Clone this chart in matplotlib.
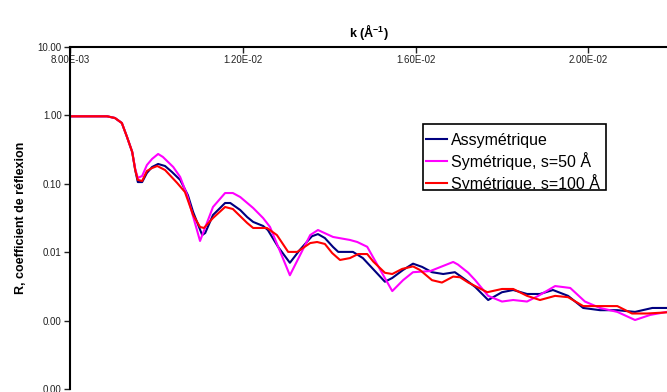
import matplotlib
matplotlib.use('Agg')
import matplotlib.pyplot as plt
from matplotlib.ticker import FixedLocator, FuncFormatter
from matplotlib.patches import Rectangle
from matplotlib.transforms import Bbox, TransformedBbox

plt.rcParams['font.family'] = ['Liberation Sans', 'DejaVu Sans']
plt.rcParams['mathtext.fontset'] = 'custom'
plt.rcParams['mathtext.rm'] = 'Liberation Sans'
plt.rcParams['mathtext.bf'] = 'Liberation Sans:bold'

# courbe asymétrique
k_asym = [0.00800, 0.00846, 0.00886, 0.00904, 0.00920, 0.00932, 0.00944, 0.00951,
          0.00957, 0.00967, 0.00978, 0.00990, 0.01004, 0.01020, 0.01036, 0.01055,
          0.01073, 0.01085, 0.01106, 0.01113, 0.01131, 0.01159, 0.01171, 0.01194,
          0.01210, 0.01224, 0.01247, 0.01258, 0.01282, 0.01309, 0.01332, 0.01360,
          0.01374, 0.01390, 0.01409, 0.01421, 0.01455, 0.01478, 0.01529, 0.01546,
          0.01571, 0.01594, 0.01615, 0.01638, 0.01664, 0.01691, 0.01722, 0.01738,
          0.01768, 0.01800, 0.01826, 0.01858, 0.01888, 0.01918, 0.01953, 0.01988,
          0.02027, 0.02067, 0.02108, 0.02148, 0.02182]
r_asym = [0.970, 0.970, 0.970, 0.916, 0.774, 0.483, 0.292, 0.159,
          0.106, 0.106, 0.144, 0.176, 0.195, 0.182, 0.149, 0.114,
          0.068, 0.0387, 0.0178, 0.0191, 0.035, 0.0524, 0.0524, 0.0414,
          0.0327, 0.0277, 0.0242, 0.0211, 0.0119, 0.0070, 0.0108, 0.0171,
          0.0184, 0.0161, 0.0119, 0.0101, 0.0101, 0.0082, 0.0037, 0.0042,
          0.0055, 0.0068, 0.0061, 0.0051, 0.0048, 0.0051, 0.0037, 0.0031,
          0.0020, 0.0026, 0.0028, 0.00245, 0.00245, 0.0028, 0.0023, 0.00153,
          0.00142, 0.00142, 0.00134, 0.00153, 0.00153]

# symétrique, s=50 Å
k_s50 = [0.00800, 0.00846, 0.00886, 0.00904, 0.00920, 0.00932, 0.00944, 0.00951,
         0.00957, 0.00967, 0.00978, 0.00990, 0.01004, 0.01015, 0.01039, 0.01055,
         0.01071, 0.01101, 0.01131, 0.01159, 0.01177, 0.01194, 0.01224, 0.01247,
         0.01263, 0.01309, 0.01356, 0.01374, 0.01409, 0.01448, 0.01465, 0.01488,
         0.01546, 0.01571, 0.01594, 0.01634, 0.01687, 0.01698, 0.01722, 0.01738,
         0.01768, 0.01800, 0.01826, 0.01858, 0.01884, 0.01923, 0.01958, 0.01992,
         0.02027, 0.02067, 0.02108, 0.02143, 0.02182]
r_s50 = [0.970, 0.970, 0.970, 0.916, 0.774, 0.483, 0.292, 0.165,
         0.122, 0.130, 0.188, 0.231, 0.273, 0.247, 0.176, 0.126,
         0.0686, 0.0146, 0.0458, 0.0733, 0.0733, 0.0641, 0.0443, 0.0316,
         0.0234, 0.0046, 0.0178, 0.0211, 0.0167, 0.0151, 0.0141, 0.0120,
         0.0027, 0.0039, 0.0051, 0.0053, 0.0072, 0.0066, 0.0050, 0.0039,
         0.0023, 0.0019, 0.0020, 0.0019, 0.0023, 0.0032, 0.0030, 0.0019,
         0.00153, 0.00134, 0.00102, 0.00121, 0.00134]

# symétrique, s=100 Å
k_s100 = [0.00800, 0.00846, 0.00886, 0.00904, 0.00920, 0.00932, 0.00944, 0.00951,
          0.00957, 0.00967, 0.00978, 0.00990, 0.01002, 0.01020, 0.01048, 0.01066,
          0.01085, 0.01101, 0.01110, 0.01131, 0.01159, 0.01177, 0.01210, 0.01224,
          0.01256, 0.01279, 0.01305, 0.01326, 0.01356, 0.01372, 0.01390, 0.01407,
          0.01425, 0.01448, 0.01467, 0.01488, 0.01502, 0.01529, 0.01546, 0.01569,
          0.01594, 0.01610, 0.01638, 0.01661, 0.01687, 0.01703, 0.01722, 0.01766,
          0.01800, 0.01826, 0.01858, 0.01888, 0.01923, 0.01953, 0.01988, 0.02027,
          0.02067, 0.02101, 0.02136, 0.02182]
r_s100 = [0.970, 0.970, 0.970, 0.916, 0.774, 0.483, 0.292, 0.159,
          0.114, 0.110, 0.154, 0.170, 0.182, 0.159, 0.103, 0.0759,
          0.035, 0.0234, 0.0226, 0.0316, 0.0458, 0.0428, 0.0268, 0.0226,
          0.0226, 0.0178, 0.0101, 0.0101, 0.0136, 0.0141, 0.0132, 0.0097,
          0.0077, 0.0082, 0.0094, 0.0094, 0.0073, 0.0050, 0.0048, 0.0057,
          0.0062, 0.0055, 0.0039, 0.0036, 0.0044, 0.0043, 0.0036, 0.0026,
          0.0029, 0.0029, 0.0023, 0.0020, 0.0023, 0.0022, 0.00163, 0.00163,
          0.00163, 0.00127, 0.00127, 0.00132]

x_ticks = [0.008, 0.012, 0.016, 0.020]
y_ticks = [10, 1, 0.1, 0.01, 0.001, 0.0001]

fig = plt.figure(figsize=(6.67, 3.92), dpi=100)
ax = fig.add_axes([70 / 667, 3 / 392, 597 / 667, 342 / 392])

ax.plot(k_asym, r_asym, color='#000080', lw=1.5, label='Assymétrique')
ax.plot(k_s50, r_s50, color='#ff00ff', lw=1.5, label='Symétrique, s=50 Å')
ax.plot(k_s100, r_s100, color='#ff0000', lw=1.5, label='Symétrique, s=100 Å')

ax.set_yscale('log')
ax.set_xlim(0.008, 0.02182)
ax.set_ylim(1e-4, 10)

for s in ['right', 'bottom']:
    ax.spines[s].set_visible(False)
for s in ['left', 'top']:
    ax.spines[s].set_linewidth(1.5)

ax.xaxis.tick_top()
ax.xaxis.set_major_locator(FixedLocator(x_ticks))
ax.xaxis.set_major_formatter(FuncFormatter(lambda v, p: '%.2fE-02' % (v * 100) if v >= 0.01 else '%.2fE-03' % (v * 1000)))
ax.tick_params(axis='x', direction='in', length=4, width=1, pad=-13, labelsize=7, colors='#222222')
ax.yaxis.set_major_locator(FixedLocator(y_ticks))
ax.yaxis.set_minor_locator(FixedLocator([]))
ax.yaxis.set_major_formatter(FuncFormatter(lambda v, p: '%.2f' % v))
ax.tick_params(axis='y', direction='out', length=4, width=1, pad=2, labelsize=7, colors='#222222')

ax.set_title(r'k (Å$^{\mathbf{-1}}$)', fontsize=9, fontweight='bold', pad=7)
ax.set_ylabel('R, coefficient de réflexion', fontsize=9, fontweight='bold')
ax.yaxis.set_label_coords(-0.072, 0.5)

# légende façon Excel (cadre trop petit, dernière ligne coupée)
box = Rectangle((423 / 667, 1 - 190 / 392), 183 / 667, 66 / 392, transform=fig.transFigure,
                facecolor='white', edgecolor='black', lw=1.2, zorder=5, clip_on=False)
ax.add_patch(box)
leg = ax.legend(loc='upper left', bbox_to_anchor=(426 / 667, 1 - 133 / 392),
                bbox_transform=fig.transFigure, frameon=False, fontsize=11.5,
                handlelength=1.3, handletextpad=0.25, labelspacing=0.25,
                borderpad=0.0, borderaxespad=0)
leg.set_zorder(6)
clip = TransformedBbox(Bbox([[423 / 667, 1 - 189 / 392], [606 / 667, 1 - 124 / 392]]), fig.transFigure)
for t in leg.get_texts():
    t.set_clip_box(clip)
    t.set_clip_on(True)

fig.savefig('out.png', dpi=100)
